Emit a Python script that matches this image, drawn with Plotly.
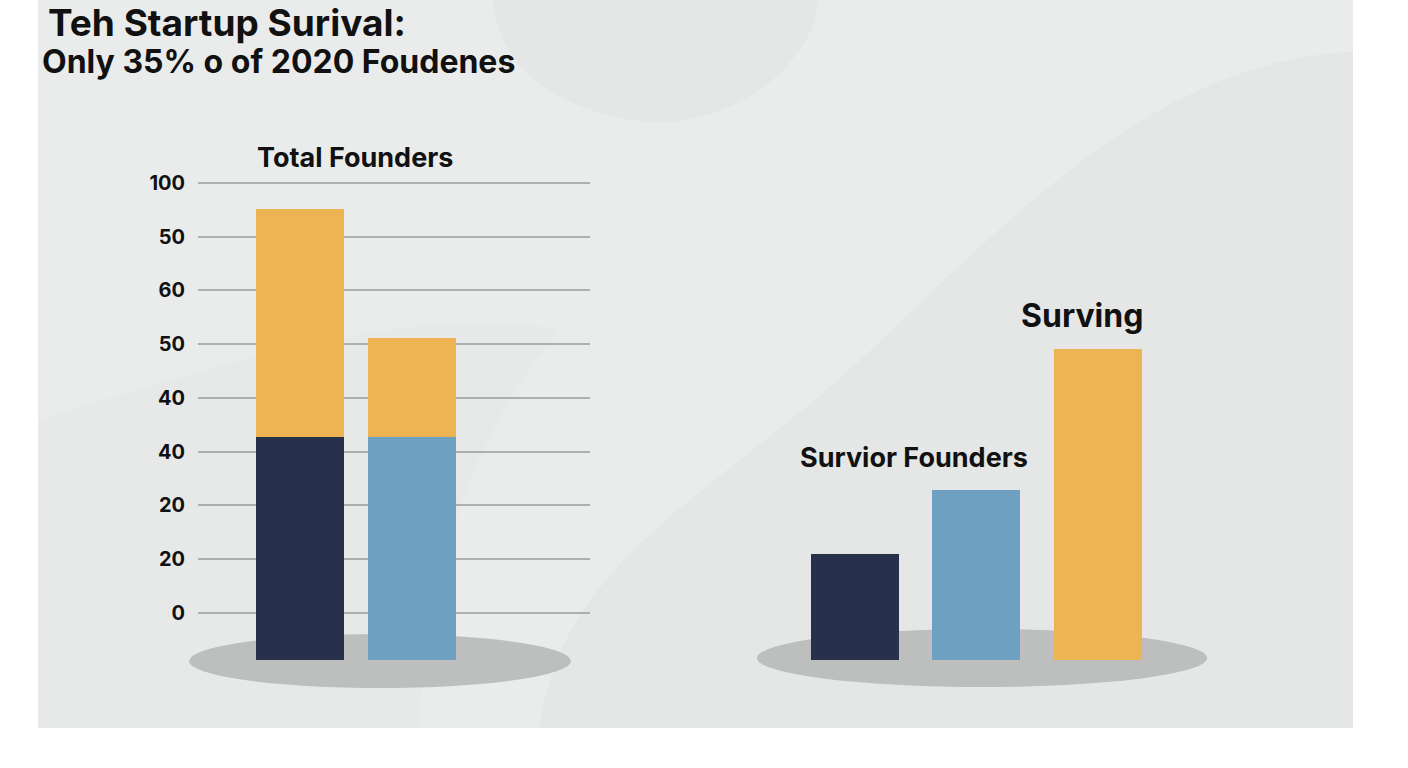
import plotly.graph_objects as go

# chart values, in the chart's own axis units (gridline "0" sits at 0, one gridline every 10)
left_cats = ["Founders 2020", "Founders 2021"]
left_lower = [32.7, 32.7]     # top of the dark / blue segment
left_total = [75.2, 51.2]     # top of the yellow segment
right_cats = ["Exited", "Survivor", "Surviving"]
right_values = [11.0, 22.9, 49.1]
tick_vals = [0, 10, 20, 30, 40, 50, 60, 70, 80]
tick_text = ["0", "20", "20", "40", "40", "50", "60", "50", "100"]
FLOOR = -8.7  # bars start a bit below the "0" line, on the shadow

NAVY = "#27314b"
BLUE = "#6ea1c1"
YELLOW = "#eeb453"
BG = "#eaeceb"
BLOB = "#e5e7e6"

W, H = 1408, 768


def px(x):
    return x / W


def py(y):
    return 1 - y / H


def path(points):
    # points given in window pixels -> paper coords
    cmds = []
    for p in points:
        if isinstance(p, str):
            cmds.append(p)
        else:
            cmds.append("%.5f,%.5f" % (px(p[0]), py(p[1])))
    return " ".join(cmds)


fig = go.Figure()

# left chart: yellow full bars, lower segments drawn over them
fig.add_trace(go.Bar(
    x=left_cats, y=[t - FLOOR for t in left_total], base=FLOOR,
    width=0.786, marker=dict(color=YELLOW, line=dict(width=0)),
    xaxis="x", yaxis="y", showlegend=False,
))
fig.add_trace(go.Bar(
    x=left_cats, y=[b - FLOOR for b in left_lower], base=FLOOR,
    width=0.786, marker=dict(color=[NAVY, BLUE], line=dict(width=0)),
    xaxis="x", yaxis="y", showlegend=False,
))

# right chart
fig.add_trace(go.Bar(
    x=right_cats, y=[v - FLOOR for v in right_values], base=FLOOR,
    width=0.726, marker=dict(color=[NAVY, BLUE, YELLOW], line=dict(width=0)),
    xaxis="x2", yaxis="y2", showlegend=False,
))

yrange = [-16.19, 95.44]
ydom = [py(700), py(100)]

shapes = [
    # grey card behind everything
    dict(type="rect", xref="paper", yref="paper", x0=px(38), x1=px(1353),
         y0=py(728), y1=py(0), fillcolor=BG, line=dict(width=0), layer="below"),
    # faint background blobs, kept inside the card
    dict(type="path", xref="paper", yref="paper", layer="below",
         path=path(["M", (493, 0), "C", (500, 90), (600, 122), (660, 122),
                    "C", (740, 122), (815, 60), (818, 0), "Z"]),
         fillcolor=BLOB, line=dict(width=0)),
    dict(type="path", xref="paper", yref="paper", layer="below",
         path=path(["M", (1353, 52), "C", (1150, 60), (1000, 230), (860, 360),
                    "C", (720, 490), (560, 560), (540, 728), "L", (1353, 728), "Z"]),
         fillcolor=BLOB, line=dict(width=0)),
    dict(type="path", xref="paper", yref="paper", layer="below",
         path=path(["M", (38, 420), "C", (200, 370), (420, 300), (560, 330),
                    "C", (470, 430), (420, 600), (420, 728), "L", (38, 728), "Z"]),
         fillcolor="#e7e9e8", line=dict(width=0)),
    # shadows under the bars
    dict(type="circle", xref="paper", yref="paper", x0=px(189), x1=px(571),
         y0=py(688), y1=py(634), fillcolor="#bdbebe", line=dict(width=0), layer="below"),
    dict(type="circle", xref="paper", yref="paper", x0=px(757), x1=px(1207),
         y0=py(687), y1=py(629), fillcolor="#bdbebe", line=dict(width=0), layer="below"),
]

annotations = [
    dict(text="<b>Teh Startup Surival:</b>", x=px(46), y=py(23), font=dict(size=37)),
    dict(text="<b>Only 35% o of 2020 Foudenes</b>", x=px(40), y=py(62), font=dict(size=32)),
]
for txt, cx, cy, size in [("Total Founders", 355, 157, 27),
                          ("Survior Founders", 914, 457, 27),
                          ("Surving", 1082, 316, 32)]:
    annotations.append(dict(text="<b>%s</b>" % txt, x=px(cx), y=py(cy),
                            xanchor="center", font=dict(size=size)))
for a in annotations:
    a.update(xref="paper", yref="paper", showarrow=False, yanchor="middle")
    a.setdefault("xanchor", "left")
    a["font"].update(color="#111111", family="Inter, Roboto, sans-serif")

fig.update_layout(
    width=W, height=H,
    margin=dict(l=0, r=0, t=0, b=0),
    paper_bgcolor="white", plot_bgcolor="rgba(0,0,0,0)",
    barmode="overlay", bargap=0,
    font=dict(family="Inter, Roboto, sans-serif", color="#111111"),
    shapes=shapes, annotations=annotations,
    xaxis=dict(domain=[px(198), px(590)], range=[-0.911, 2.589],
               showticklabels=False, showgrid=False, zeroline=False, fixedrange=True),
    yaxis=dict(domain=ydom, range=yrange, tickvals=tick_vals,
               ticktext=["<b>%s</b>" % t for t in tick_text],
               tickfont=dict(size=20, color="#111111"), ticklabelstandoff=12,
               showgrid=True, gridcolor="#aeb0b0", gridwidth=2,
               zeroline=False, showline=False, fixedrange=True),
    xaxis2=dict(domain=[px(760), px(1200)], range=[-0.7835, 2.845], anchor="y2",
                showticklabels=False, showgrid=False, zeroline=False, fixedrange=True),
    yaxis2=dict(domain=ydom, range=yrange, anchor="x2", showticklabels=False,
                showgrid=False, zeroline=False, fixedrange=True),
)

# drop the default page margin so the figure fills the window exactly
fig.write_html("out.html", config={"displayModeBar": False},
               post_script="document.body.style.margin='0';")
